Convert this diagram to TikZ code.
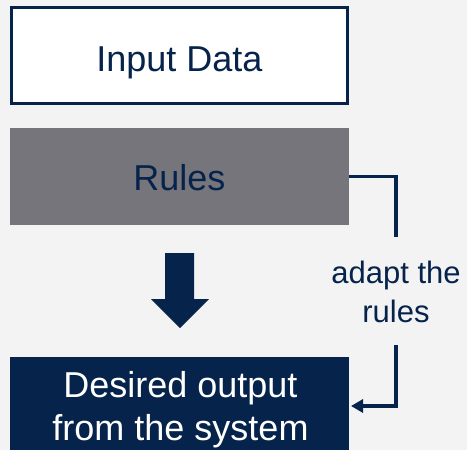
\documentclass[tikz,border=0pt]{standalone}
\usepackage{fontspec}
\setmainfont{Liberation Sans}
\usetikzlibrary{arrows.meta,calc}
\definecolor{navy}{HTML}{06234B}
\definecolor{rulegray}{HTML}{76757B}
\definecolor{bg}{HTML}{F3F3F3}
\begin{document}
\begin{tikzpicture}[x=1pt,y=-1pt,
  box/.style={minimum width=339pt,inner sep=0pt,outer sep=0pt},
  big/.style={font=\fontsize{36}{40}\selectfont,inner sep=0pt,anchor=base},
  small/.style={font=\fontsize{31}{39}\selectfont,inner sep=0pt,anchor=base,text=navy},
  conn/.style={draw=navy,line width=3.6pt}]
\fill[bg] (0,0) rectangle (467,450);
\useasboundingbox (0,0) rectangle (467,450);
% Input Data
\node[box,draw=navy,line width=3pt,fill=white,minimum width=336pt,minimum height=96pt]
  (input) at (179.5,55.5) {};
\node[big,text=navy] (inputtext) at (179.5,71) {Input Data};
% Rules
\node[box,fill=rulegray,minimum height=97pt] (rules) at (179.5,176.5) {};
\node[big,text=navy] (rulestext) at (179.5,190) {Rules};
% Output
\begin{scope}
\clip (0,0) rectangle (467,450);
\node[box,fill=navy,minimum height=120pt,anchor=north] (output) at (179.5,357) {};
\end{scope}
\node[big,text=white] (outtext1) at (180.5,397) {Desired output};
\node[big,text=white] (outtext2) at (180.5,440) {from the system};
% Block arrow
\fill[navy] (165,253) -- (194,253) -- (194,299) -- (209,299) -- (180,328)
  -- (151,299) -- (165,299) -- cycle;
% adapt label
\node[small] (adapt1) at (396,283) {adapt the};
\node[small] (adapt2) at (396,322) {rules};
\coordinate (adapttop) at (396,237);
\coordinate (adaptbot) at (396,345);
\coordinate (tip) at (351,406);
\draw[conn] (rules.east) -| (adapttop);
\draw[conn,-{Triangle[length=12pt,width=13pt]}] (adaptbot) |- (tip);
\end{tikzpicture}
\end{document}
